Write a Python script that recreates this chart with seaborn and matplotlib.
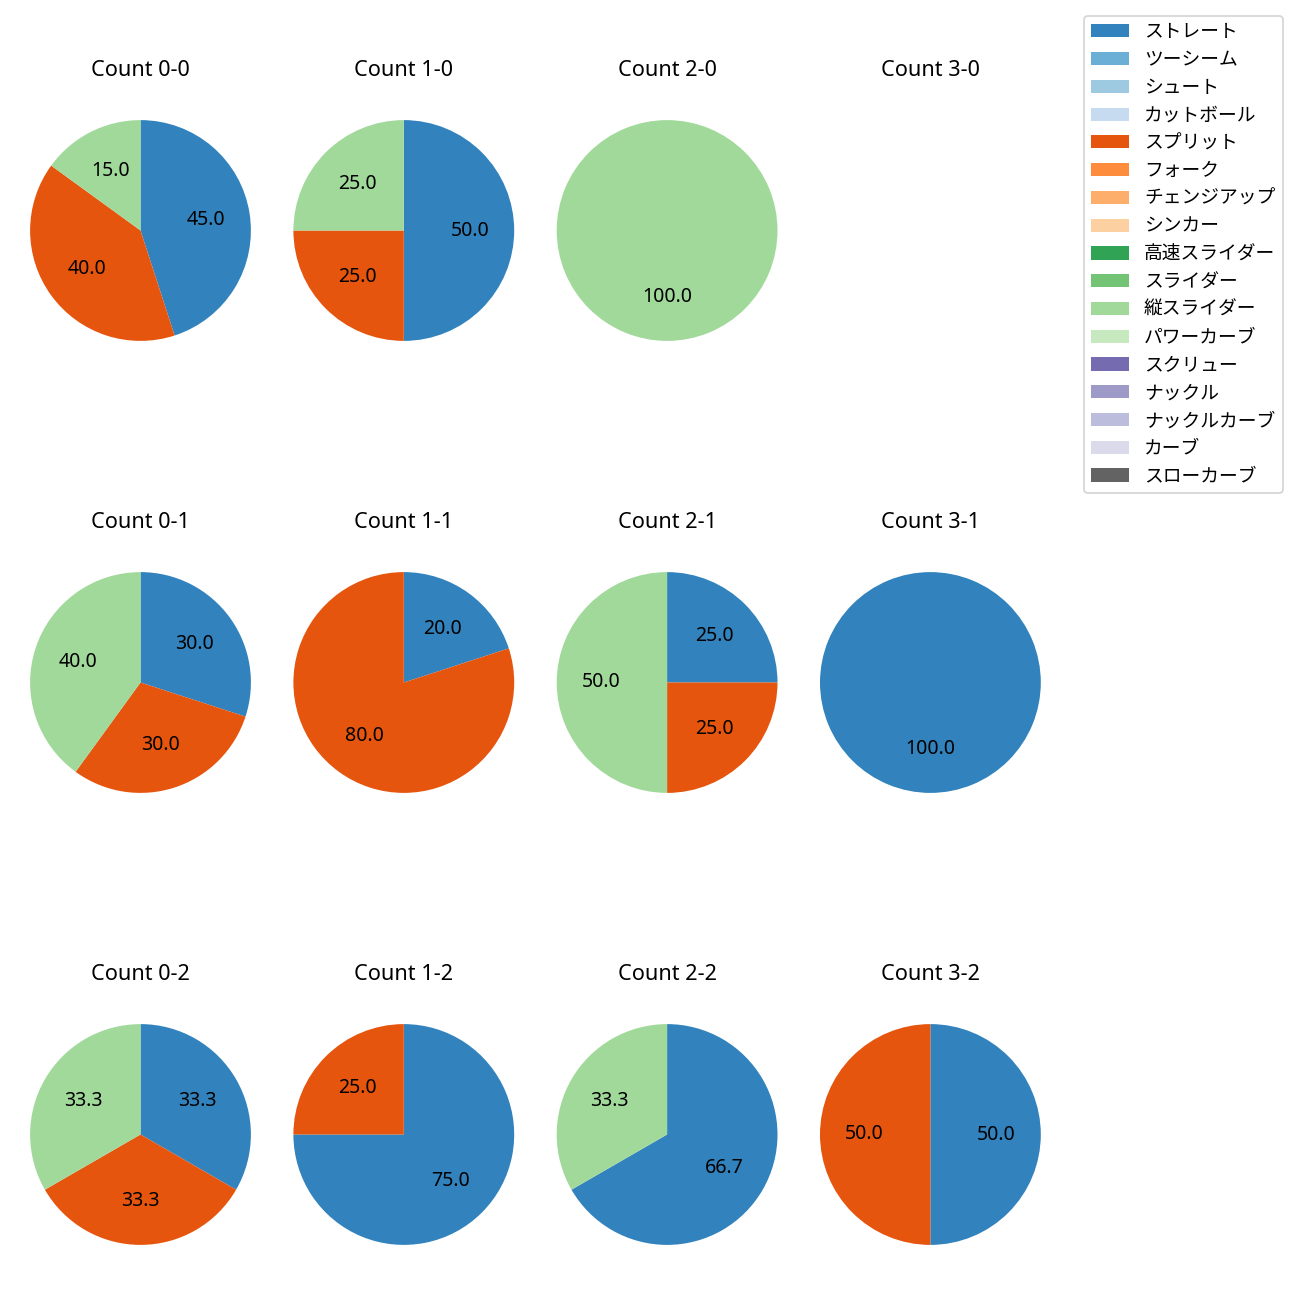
import matplotlib
matplotlib.use("Agg")
import matplotlib.pyplot as plt
from matplotlib.patches import Patch
import seaborn as sns

plt.rcParams['font.family'] = ['Noto Sans', 'Noto Sans CJK JP', 'DejaVu Sans']

# %% Datos
pitch_types = ["ストレート", "ツーシーム", "シュート", "カットボール", "スプリット", "フォーク",
               "チェンジアップ", "シンカー", "高速スライダー", "スライダー", "縦スライダー",
               "パワーカーブ", "スクリュー", "ナックル", "ナックルカーブ", "カーブ", "スローカーブ"]
colors = sns.color_palette("tab20c", 20)[:17]

# counts per count situation: (ストレート, スプリット, 縦スライダー)
count_labels = ["0-0", "1-0", "2-0", "3-0",
                "0-1", "1-1", "2-1", "3-1",
                "0-2", "1-2", "2-2", "3-2"]
straight = [9, 2, 0, 0, 3, 1, 1, 1, 1, 3, 2, 1]
split = [8, 1, 0, 0, 3, 4, 1, 0, 1, 1, 0, 1]
tate_slider = [3, 1, 1, 0, 4, 0, 2, 0, 1, 0, 1, 0]

# %% Gráfico
fig = plt.figure(figsize=(10, 10), dpi=130)
W, H = 1300.0, 1300.0
box = 276.0
for i, cnt in enumerate(count_labels):
    r, c = divmod(i, 4)
    cx = 140.5 + 263.3 * c
    cy = 230.5 + 452.0 * r
    ax = fig.add_axes([(cx - box / 2) / W, 1 - (cy + box / 2) / H, box / W, box / H])
    vals, cols = [], []
    for v, name in zip([straight[i], split[i], tate_slider[i]],
                       ["ストレート", "スプリット", "縦スライダー"]):
        if v > 0:
            vals.append(v)
            cols.append(colors[pitch_types.index(name)])
    if vals:
        ax.pie(vals, colors=cols, startangle=90, counterclock=False, autopct="%.1f",
               textprops={"fontsize": 10.8})
    else:
        ax.set_xlim(-1.25, 1.25)
        ax.set_ylim(-1.25, 1.25)
        ax.set_aspect("equal")
        ax.axis("off")
    ax.set_title(f"Count {cnt}", pad=9.3)

handles = [Patch(facecolor=col, label=lab) for lab, col in zip(pitch_types, colors)]
fig.legend(handles=handles, loc="upper right", bbox_to_anchor=(0.994, 0.995),
           fontsize=10.4, labelspacing=0.52)

fig.savefig("out.png", dpi=130)
